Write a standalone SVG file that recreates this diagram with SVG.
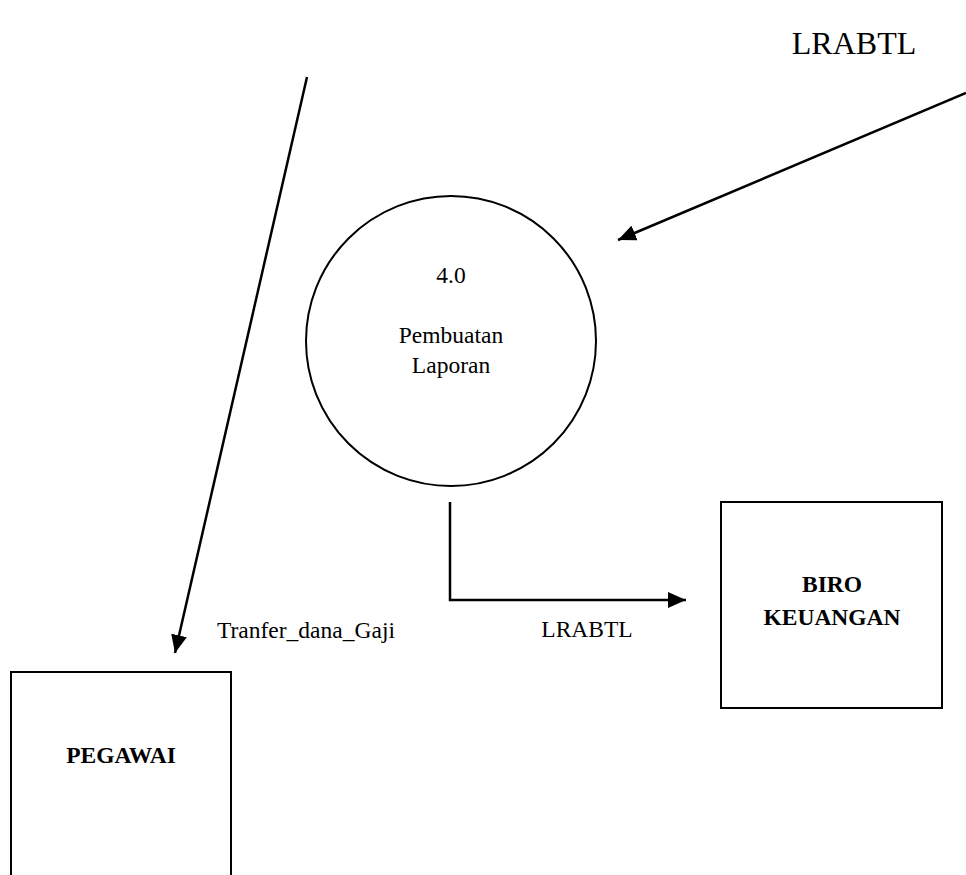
<svg xmlns="http://www.w3.org/2000/svg" width="966" height="875" viewBox="0 0 966 875">
<style>
text{font-family:"Liberation Serif","Times New Roman",serif;fill:#000;font-size:23.5px}
.m{text-anchor:middle}
.b{font-weight:bold;text-anchor:middle}
.shape{fill:#fff;stroke:#000;stroke-width:2}
.flow{fill:none;stroke:#000;stroke-width:2.5}
</style>
<defs>
<marker id="a" markerUnits="userSpaceOnUse" markerWidth="20" markerHeight="16" refX="18" refY="8" orient="auto">
<path d="M0,0 L18,8 L0,16 z" fill="#000"/>
</marker>
</defs>
<g id="connectors">
<line class="flow" x1="307" y1="77" x2="175" y2="653" marker-end="url(#a)"/>
<line class="flow" x1="966" y1="93" x2="618" y2="240" marker-end="url(#a)"/>
<polyline class="flow" points="450,502 450,600 686,600" marker-end="url(#a)"/>
<text x="217" y="638">Tranfer_dana_Gaji</text>
<text class="m" x="587" y="637">LRABTL</text>
<text class="m" x="854" y="54" font-size="32" style="font-size:32px">LRABTL</text>
</g>
<g id="process">
<circle class="shape" cx="451" cy="341" r="145"/>
<text class="m" x="451" y="283">4.0</text>
<text class="m" x="451" y="343">Pembuatan</text>
<text class="m" x="451" y="373">Laporan</text>
</g>
<g id="pegawai">
<rect class="shape" x="11" y="672" width="220" height="220"/>
<text class="b" x="121" y="763">PEGAWAI</text>
</g>
<g id="biro">
<rect class="shape" x="721" y="502" width="221" height="206"/>
<text class="b" x="832" y="592">BIRO</text>
<text class="b" x="832" y="625">KEUANGAN</text>
</g>
</svg>
